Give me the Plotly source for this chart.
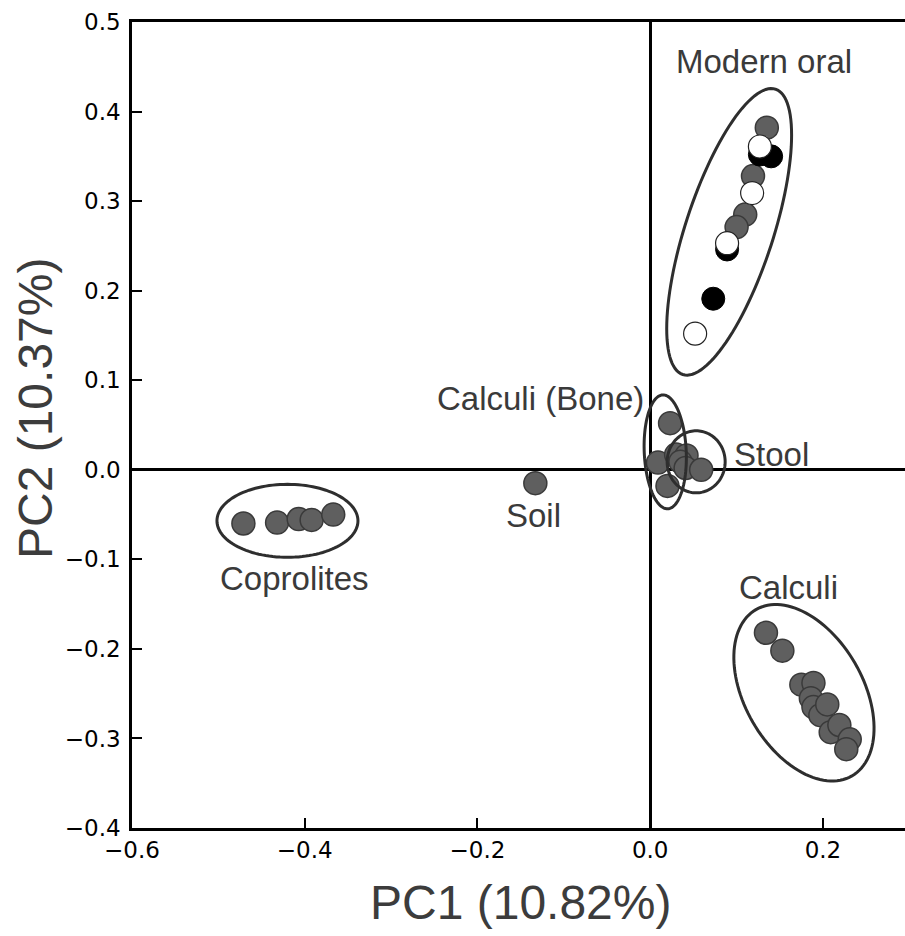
import numpy as np
import plotly.graph_objects as go

# ---- data ----
oral_gray_x = [0.135, 0.119, 0.110, 0.100]
oral_gray_y = [0.382, 0.328, 0.285, 0.271]
oral_black_x = [0.127, 0.140, 0.089, 0.073]
oral_black_y = [0.352, 0.350, 0.246, 0.191]
oral_white_x = [0.127, 0.118, 0.089, 0.052]
oral_white_y = [0.361, 0.309, 0.253, 0.152]

bone_x = [0.023, 0.009, 0.020]
bone_y = [0.052, 0.008, -0.018]
stool_x = [0.030, 0.042, 0.035, 0.041, 0.059]
stool_y = [0.017, 0.016, 0.009, 0.002, 0.000]

soil_x = [-0.133]
soil_y = [-0.015]

copro_x = [-0.471, -0.432, -0.407, -0.392, -0.367]
copro_y = [-0.060, -0.059, -0.055, -0.056, -0.050]

calc_x = [0.134, 0.153, 0.175, 0.189, 0.186, 0.189, 0.197, 0.205, 0.209, 0.219, 0.231, 0.227]
calc_y = [-0.182, -0.202, -0.240, -0.238, -0.255, -0.265, -0.274, -0.262, -0.293, -0.285, -0.301, -0.312]

group_labels = ["Modern oral", "Calculi (Bone)", "Stool", "Soil", "Coprolites", "Calculi"]
label_x = [0.132, -0.127, 0.140, -0.135, -0.412, 0.160]
label_y = [0.456, 0.080, 0.017, -0.051, -0.121, -0.132]

x_title = "PC1 (10.82%)"
y_title = "PC2 (10.37%)"

# ---- layout geometry ----
W, H = 905, 936
ML, MR, MT, MB = 132, 0, 22, 108
XR = [-0.6, 0.295]
YR = [-0.4, 0.5]
sx = (W - ML - MR) / (XR[1] - XR[0])
sy = (H - MT - MB) / (YR[1] - YR[0])

# ellipses: center (data), semi-axes (px), angle (deg, ccw from horizontal)
ellipses = [
    (0.0914, 0.2657, 150, 44, 72),
    (0.0174, 0.0200, 57, 21, 92.5),
    (0.0532, 0.0089, 31, 29, 90),
    (-0.420, -0.057, 70.5, 36.5, 0),
    (0.178, -0.249, 96, 59, 120),
]

fig = go.Figure()

def ell_path(cx, cy, a, b, ang):
    t = np.linspace(0, 2 * np.pi, 121)
    th = np.deg2rad(ang)
    dx = a * np.cos(t) * np.cos(th) - b * np.sin(t) * np.sin(th)
    dy = a * np.cos(t) * np.sin(th) + b * np.sin(t) * np.cos(th)
    xs = cx + dx / sx
    ys = cy + dy / sy
    p = "M " + " L ".join(f"{x:.5f},{y:.5f}" for x, y in zip(xs, ys)) + " Z"
    return p

for e in ellipses:
    fig.add_shape(type="path", path=ell_path(*e), xref="x", yref="y",
                  line=dict(color="#2e2e2e", width=3), layer="above")

gray = dict(color="#5f5f5f", size=23, line=dict(color="#3a3a3a", width=1.5))

def add(xs, ys, marker):
    fig.add_trace(go.Scatter(x=xs, y=ys, mode="markers", marker=marker,
                             showlegend=False, hoverinfo="x+y"))

add(copro_x, copro_y, gray)
add(soil_x, soil_y, gray)
add(bone_x, bone_y, gray)
add(stool_x, stool_y, gray)
add(calc_x, calc_y, gray)
add(oral_gray_x, oral_gray_y, gray)
add(oral_black_x, oral_black_y, dict(color="#000000", size=23, line=dict(color="#000000", width=1)))
add(oral_white_x, oral_white_y, dict(color="#ffffff", size=23, line=dict(color="#222222", width=1.2)))

for t, x, y in zip(group_labels, label_x, label_y):
    fig.add_annotation(x=x, y=y, text=t, showarrow=False, xref="x", yref="y",
                       font=dict(family="Liberation Sans, Arial", size=33, color="#3a3a3a"))

fig.add_annotation(x=0.502, y=-0.093, xref="paper", yref="paper", text=x_title,
                   showarrow=False, xanchor="center", yanchor="middle",
                   font=dict(family="Liberation Sans, Arial", size=48, color="#3c3c3c"))
fig.add_annotation(x=-0.124, y=0.52, xref="paper", yref="paper", text=y_title,
                   showarrow=False, xanchor="center", yanchor="middle", textangle=-90,
                   font=dict(family="Liberation Sans, Arial", size=48, color="#3c3c3c"))

axis_common = dict(showgrid=False, zeroline=True, zerolinecolor="black", zerolinewidth=2.5,
                   showline=True, linecolor="black", linewidth=2.5,
                   ticks="inside", ticklen=10, tickwidth=2, tickcolor="black",
                   tickfont=dict(family="DejaVu Sans", size=23, color="black"),
                   tickformat=".1f")

fig.update_xaxes(range=XR, dtick=0.2, tick0=-0.6, mirror=True, **axis_common)
fig.update_yaxes(range=YR, dtick=0.1, tick0=-0.4, ticklabelstandoff=4, **axis_common)

fig.update_layout(width=W, height=H, margin=dict(l=ML, r=MR, t=MT, b=MB),
                  plot_bgcolor="white", paper_bgcolor="white")

fig.write_html("out.html")
